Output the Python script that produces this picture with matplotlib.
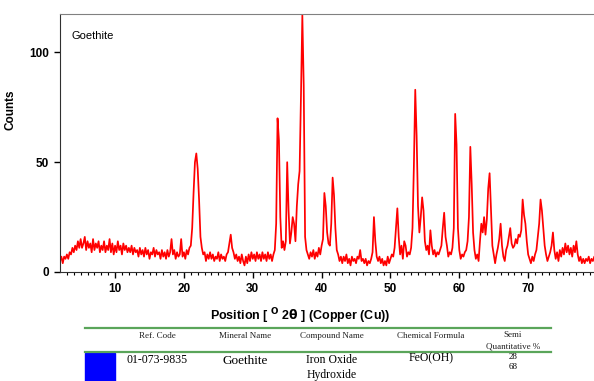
import numpy as np
import matplotlib.pyplot as plt
from matplotlib.patches import Rectangle

# XRD scan, 2-theta from 2 to 80 deg, step 0.2
two_theta_start = 2.0
two_theta_step = 0.2

counts_02_12 = [5, 7, 4, 7, 6, 8, 6, 9, 8, 11,
                9, 12, 10, 14, 11, 15, 11, 13, 16, 10,
                14, 11, 13, 9, 15, 10, 13, 11, 14, 9,
                12, 10, 14, 9, 12, 10, 15, 9, 13, 8,
                12, 9, 14, 10, 12, 8, 13, 10, 12, 9]
counts_12_22 = [11, 9, 12, 8, 11, 9, 10, 7, 11, 8,
                10, 7, 11, 8, 10, 6, 9, 8, 11, 7,
                10, 8, 9, 6, 10, 7, 9, 6, 10, 7,
                9, 15, 8, 10, 6, 9, 7, 8, 15, 7,
                9, 6, 10, 8, 11, 12, 20, 36, 50, 54]
counts_22_32 = [47, 33, 16, 11, 8, 9, 5, 8, 6, 9,
                6, 8, 5, 7, 6, 9, 5, 8, 6, 7,
                5, 8, 9, 13, 17, 11, 9, 6, 8, 5,
                7, 4, 8, 5, 3, 7, 4, 8, 5, 9,
                6, 8, 5, 9, 6, 8, 5, 9, 6, 8]
counts_32_42 = [5, 9, 6, 8, 5, 8, 10, 22, 70, 60,
                25, 11, 14, 10, 14, 50, 28, 13, 18, 25,
                22, 14, 30, 40, 46, 80, 117, 85, 16, 10,
                8, 6, 9, 7, 10, 6, 9, 7, 11, 8,
                12, 15, 36, 30, 18, 13, 12, 22, 43, 35]
counts_42_52 = [20, 10, 8, 5, 7, 4, 7, 5, 8, 4,
                6, 3, 7, 5, 6, 4, 7, 6, 10, 5,
                6, 4, 6, 3, 5, 4, 6, 9, 25, 14,
                7, 5, 7, 4, 6, 3, 5, 3, 7, 4,
                6, 8, 7, 11, 20, 29, 16, 8, 12, 6]
counts_52_62 = [14, 12, 7, 9, 8, 11, 20, 48, 83, 62,
                30, 18, 25, 34, 28, 14, 10, 12, 8, 19,
                12, 8, 10, 7, 9, 8, 10, 12, 20, 27,
                16, 12, 7, 9, 8, 11, 20, 72, 58, 20,
                10, 6, 8, 7, 9, 10, 14, 25, 57, 40]
counts_62_72 = [18, 10, 6, 8, 5, 14, 22, 18, 25, 17,
                24, 38, 45, 28, 12, 8, 4, 8, 11, 15,
                22, 12, 7, 5, 10, 12, 16, 20, 13, 11,
                12, 15, 13, 17, 16, 19, 33, 26, 22, 14,
                8, 6, 4, 7, 5, 8, 10, 16, 22, 33]
counts_72_80 = [28, 20, 12, 8, 5, 7, 9, 12, 18, 10,
                6, 9, 5, 10, 7, 11, 8, 13, 9, 12,
                8, 11, 7, 12, 9, 14, 8, 5, 7, 4,
                6, 4, 6, 5, 7, 4, 6, 5, 7, 4, 6]

counts = np.array(counts_02_12 + counts_12_22 + counts_22_32 + counts_32_42
                  + counts_42_52 + counts_52_62 + counts_62_72 + counts_72_80)
two_theta = two_theta_start + two_theta_step * np.arange(len(counts))

x_ticks = [10, 20, 30, 40, 50, 60, 70]
y_ticks = [0, 50, 100]

# reference pattern table
table_headers = ["Ref. Code", "Mineral Name", "Compound Name", "Chemical Formula"]
ref_code = "01-073-9835"
mineral_name = "Goethite"
compound_name = "Iron Oxide\nHydroxide"
chem_formula = "FeO(OH)"
semi_quant = ["28", "68"]

W, H = 594, 381
fig = plt.figure(figsize=(W / 100, H / 100), dpi=100)
ax = fig.add_axes([60 / W, 1 - 272 / H, 537 / W, 258 / H])

ax.plot(two_theta, counts, color='#ff0000', lw=1.25)
ax.set_xlim(2, 80)
ax.set_ylim(0, 117.5)

ax.spines['right'].set_visible(False)
ax.spines['top'].set_color('#808080')
ax.spines['left'].set_color('#303030')
ax.spines['bottom'].set_color('#303030')

ax.set_xticks(x_ticks)
ax.set_xticks(np.arange(3, 80, 1), minor=True)
ax.set_yticks(y_ticks)
ax.tick_params(axis='both', which='major', length=4, width=1, direction='out',
               labelsize=8.5, pad=4)
ax.tick_params(axis='x', which='minor', length=2, width=0.8, direction='out')
for lab in ax.get_xticklabels() + ax.get_yticklabels():
    lab.set_fontweight('bold')
    lab.set_family('Liberation Sans')

ax.set_ylabel('Counts', fontsize=8.5, fontweight='bold', family='Liberation Sans')
ax.yaxis.set_label_coords(-0.081, 0.628)

ax.text(72 / W, 1 - 36 / H, 'Goethite', transform=fig.transFigure, fontsize=8,
        family='Liberation Sans', va='center', ha='left')

fig.text(300 / W, 1 - 316 / H, r'Position [ $^{\mathbf{O}}$ 2$\mathbf{\theta}$ ] (Copper (Cu))',
         fontsize=9, fontweight='bold', family='Liberation Sans', ha='center', va='center')

# table
green = '#5aa55a'
fig.add_artist(plt.Line2D([85 / W, 551 / W], [1 - 327.5 / H, 1 - 327.5 / H],
                          color=green, lw=1.6, transform=fig.transFigure))
fig.add_artist(plt.Line2D([85 / W, 551 / W], [1 - 352 / H, 1 - 352 / H],
                          color=green, lw=1.6, transform=fig.transFigure))
fig.add_artist(Rectangle((85 / W, 0), 30 / W, 1 - 353 / H, color='#0000ff',
                         transform=fig.transFigure))

col_x = [157, 245, 332, 431]
for cx, hdr in zip(col_x, table_headers):
    fig.text(cx / W, 1 - 336 / H, hdr, fontsize=6.5, family='Liberation Serif',
             ha='center', va='center', color='#222222')
fig.text(513 / W, 1 - 335 / H, 'Semi', fontsize=6.5, family='Liberation Serif',
         ha='center', va='center', color='#222222')
fig.text(513 / W, 1 - 346.5 / H, 'Quantitative %', fontsize=6.5, family='Liberation Serif',
         ha='center', va='center', color='#222222')

fig.text(157 / W, 1 - 360 / H, ref_code, fontsize=8.5, family='Liberation Serif',
         ha='center', va='center')
fig.text(245 / W, 1 - 361 / H, mineral_name, fontsize=9.5, family='Liberation Serif',
         ha='center', va='center')
fig.text(332 / W, 1 - 367.5 / H, compound_name, fontsize=8.5, family='Liberation Serif',
         ha='center', va='center', linespacing=1.25)
fig.text(431 / W, 1 - 358.5 / H, chem_formula, fontsize=8.5, family='Liberation Serif',
         ha='center', va='center')
fig.text(513 / W, 1 - 357 / H, semi_quant[0], fontsize=6.5, family='Liberation Serif',
         ha='center', va='center')
fig.text(513 / W, 1 - 367 / H, semi_quant[1], fontsize=6.5, family='Liberation Serif',
         ha='center', va='center')

fig.savefig('out.png', dpi=100)
